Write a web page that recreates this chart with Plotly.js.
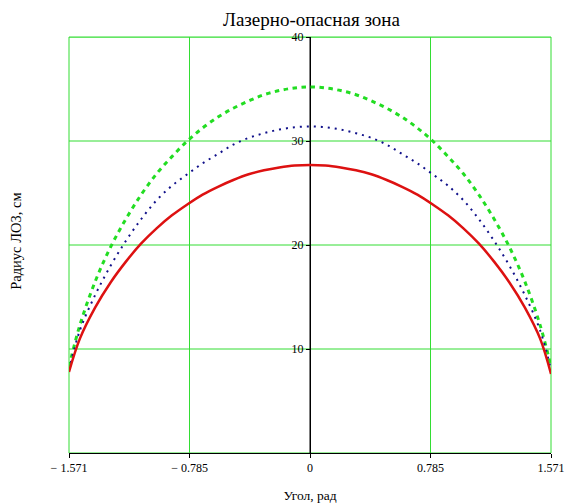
<!DOCTYPE html>
<html>
<head>
<meta charset="utf-8">
<script src="https://cdn.plot.ly/plotly-3.0.1.min.js"></script>
<style>
  html, body { margin: 0; padding: 0; background: #fff; }
  #chart { width: 568px; height: 503px; }
</style>
</head>
<body>
<div id="chart"></div>
<script>
// Angle samples, rad
const angle = [-1.571, -1.5, -1.4, -1.3, -1.2, -1.1, -1.0, -0.9, -0.8, -0.7, -0.6, -0.5,
               -0.4, -0.3, -0.2, -0.1, 0, 0.1, 0.2, 0.3, 0.4, 0.5, 0.6, 0.7, 0.8, 0.9,
               1.0, 1.1, 1.2, 1.3, 1.4, 1.5, 1.571];

// Hazard zone radius, cm
const radiusRed = [7.8, 11.0, 14.0, 16.4, 18.4, 20.15, 21.6, 22.85, 23.9, 24.85, 25.6, 26.25,
                   26.8, 27.18, 27.45, 27.64, 27.7, 27.64, 27.45, 27.18, 26.8, 26.25, 25.6, 24.85, 23.9, 22.85,
                   21.6, 20.15, 18.4, 16.4, 14.0, 11.0, 7.6];
const radiusBlue = [8.0, 11.8, 15.2, 18.0, 20.4, 22.5, 24.3, 25.7, 26.8, 27.85, 28.75, 29.65,
                    30.3, 30.75, 31.1, 31.32, 31.4, 31.32, 31.1, 30.75, 30.3, 29.65, 28.75, 27.85, 26.8, 25.7,
                    24.3, 22.5, 20.4, 18.0, 15.2, 11.8, 8.0];
const radiusGreen = [8.3, 12.3, 16.5, 19.8, 22.5, 24.85, 26.85, 28.5, 30.0, 31.25, 32.3, 33.15,
                     33.85, 34.45, 34.85, 35.1, 35.2, 35.1, 34.85, 34.45, 33.85, 33.15, 32.3, 31.25, 30.0, 28.5,
                     26.85, 24.85, 22.5, 19.8, 16.5, 12.3, 8.3];

const xTickVals = [-1.571, -0.785, 0, 0.785, 1.571];
const xTickText = ['\u2212 1.571', '\u2212 0.785', '0', '0.785', '1.571'];
const yTickVals = [10, 20, 30, 40];
const yTickText = ['10', '20', '30', '40'];

const gridGreen = '#33dd33';
const serif = 'Liberation Serif, Times New Roman, serif';

const traces = [
  {
    x: angle, y: radiusGreen, type: 'scatter', mode: 'lines',
    line: { color: '#22dd22', width: 3, dash: '4.5px,4.5px', shape: 'spline', smoothing: 1 },
    hoverinfo: 'skip'
  },
  {
    x: angle, y: radiusBlue, type: 'scatter', mode: 'lines',
    line: { color: '#10108a', width: 2, dash: '2px,5px', shape: 'spline', smoothing: 1 },
    hoverinfo: 'skip'
  },
  {
    x: angle, y: radiusRed, type: 'scatter', mode: 'lines',
    line: { color: '#dd1111', width: 2.5, shape: 'spline', smoothing: 1 },
    hoverinfo: 'skip'
  }
];

// horizontal grid lines at the y tick values
const gridShapes = yTickVals.map(v => ({
  type: 'line', xref: 'paper', yref: 'y', x0: 0, x1: 1, y0: v, y1: v,
  line: { color: gridGreen, width: 1 }, layer: 'below'
}));

const layout = {
  width: 568, height: 503,
  margin: { l: 69, r: 17, t: 37, b: 50 },
  paper_bgcolor: '#fff', plot_bgcolor: '#fff',
  showlegend: false,
  font: { family: serif, size: 12, color: '#000' },
  title: {
    text: 'Лазерно-опасная зона',
    font: { family: serif, size: 19, color: '#000' },
    xref: 'paper', x: 0.503, xanchor: 'center',
    yref: 'container', y: 0.962, yanchor: 'middle'
  },
  xaxis: {
    range: [-1.571, 1.571],
    tickmode: 'array', tickvals: xTickVals, ticktext: xTickText,
    showgrid: true, gridcolor: gridGreen, gridwidth: 1,
    zeroline: true, zerolinecolor: '#000', zerolinewidth: 1,
    showline: true, linecolor: '#000', linewidth: 1,
    ticks: 'outside', ticklen: 4, tickcolor: '#000',
    tickfont: { family: serif, size: 12, color: '#000' },
    title: { text: 'Угол, рад', font: { family: serif, size: 13.5, color: '#000' }, standoff: 16 },
    fixedrange: true
  },
  yaxis: {
    range: [0, 40],
    anchor: 'free', position: 0.5,
    tickmode: 'array', tickvals: yTickVals, ticktext: yTickText,
    showgrid: false,
    zeroline: false,
    showline: false,
    ticks: 'outside', ticklen: 4, tickcolor: '#000',
    tickfont: { family: serif, size: 12, color: '#000' },
    fixedrange: true
  },
  shapes: [
    { type: 'rect', xref: 'paper', yref: 'paper', x0: 0, x1: 1, y0: 0, y1: 1,
      line: { color: gridGreen, width: 1 }, layer: 'below' },
    ...gridShapes,
    { type: 'line', xref: 'x', yref: 'paper', x0: 0, x1: 0, y0: 0, y1: 1,
      line: { color: '#000', width: 1 }, layer: 'below' }
  ],
  annotations: [
    { text: 'Радиус ЛОЗ, см', xref: 'paper', yref: 'paper', x: -0.11, y: 0.51,
      xanchor: 'center', yanchor: 'middle', textangle: -90, showarrow: false,
      font: { family: serif, size: 14.5, color: '#000' } }
  ]
};

Plotly.newPlot('chart', traces, layout, { displayModeBar: false, staticPlot: true });
</script>
</body>
</html>
